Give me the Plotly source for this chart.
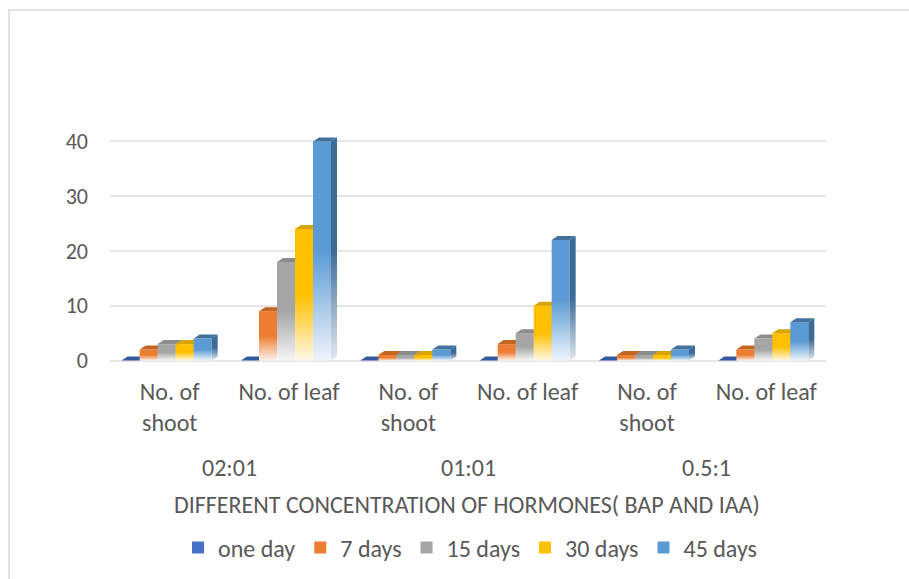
import plotly.graph_objects as go

# ---- data -------------------------------------------------------------
concentrations = ["02:01", "01:01", "0.5:1"]
measures = ["No. of<br>shoot", "No. of leaf"]
series_names = ["one day", "7 days", "15 days", "30 days", "45 days"]

one_day = [0, 0, 0, 0, 0, 0]
days_7 = [2, 9, 1, 3, 1, 2]
days_15 = [3, 18, 1, 5, 1, 4]
days_30 = [3, 24, 1, 10, 1, 5]
days_45 = [4, 40, 2, 22, 2, 7]
series_values = [one_day, days_7, days_15, days_30, days_45]

front_colors = ["#4472C4", "#ED7D31", "#A5A5A5", "#FFC000", "#5B9BD5"]
side_colors = ["#2F5597", "#B35A1F", "#7B7B7B", "#BF9000", "#3D6B97"]
top_colors = ["#34599E", "#C5651F", "#8C8C8C", "#D9A300", "#41719C"]

# ---- geometry of the pseudo-3D columns ---------------------------------
W, H = 909, 579
ML, MR, MT, MB = 110, 83, 136, 213
PW, PH = W - ML - MR, H - MT - MB
X_RANGE = [-0.5, 5.5]
Y_RANGE = [-1, 41]
px_x = PW / (X_RANGE[1] - X_RANGE[0])
px_y = PH / (Y_RANGE[1] - Y_RANGE[0])

BAR_W = 18 / px_x          # front face width
DX = 6 / px_x              # depth, horizontal
DY = 4 / px_y              # depth, vertical

categories = [f"{m}" for c in concentrations for m in measures]
n_cat = len(categories)
n_ser = len(series_names)


def mix(hex_color, t):
    """Blend a hex colour towards white by fraction t."""
    h = hex_color.lstrip("#")
    r, g, b = (int(h[i:i + 2], 16) for i in (0, 2, 4))
    r, g, b = (round(v + (255 - v) * t) for v in (r, g, b))
    return f"rgb({r},{g},{b})"


def fade(color, amount):
    return dict(type="vertical",
                colorscale=[[0, mix(color, amount)], [0.5, color], [1, color]])


fig = go.Figure()

for s in range(n_ser):
    name = series_names[s]
    top_x, top_y = [], []
    for c in range(n_cat):
        v = series_values[s][c]
        x0 = c - 2.5 * BAR_W - DX / 2 + s * BAR_W
        x1 = x0 + BAR_W
        if v > 0:
            # front face
            fig.add_trace(go.Scatter(
                x=[x0, x1, x1, x0, x0], y=[0, 0, v, v, 0],
                fill="toself", mode="none",
                fillgradient=fade(front_colors[s], 0.9),
                name=name, legendgroup=name, showlegend=False,
                hoverinfo="skip"))
            # side face
            fig.add_trace(go.Scatter(
                x=[x1, x1 + DX, x1 + DX, x1, x1], y=[0, DY, v + DY, v, 0],
                fill="toself", mode="none",
                fillgradient=fade(side_colors[s], 0.85),
                name=name, legendgroup=name, showlegend=False,
                hoverinfo="skip"))
        # top face
        top_x += [x0, x0 + DX, x1 + DX, x1, x0, None]
        top_y += [v, v + DY, v + DY, v, v, None]
    fig.add_trace(go.Scatter(
        x=top_x, y=top_y, fill="toself", mode="none",
        fillcolor=top_colors[s], name=name, legendgroup=name,
        showlegend=False, hoverinfo="skip"))
    # legend swatch
    fig.add_trace(go.Bar(
        x=[None], y=[None], marker=dict(color=front_colors[s], line_width=0),
        name=name, legendgroup=name, showlegend=True))

FONT = "Calibri, Carlito, Lato, sans-serif"
GREY = "#595959"


def px_to_paper_x(px):
    return (px - ML) / PW


def px_to_paper_y(py):
    return (H - MB - py) / PH


# group labels centred under each pair of categories
for g, label in enumerate(concentrations):
    fig.add_annotation(text=label, x=2 * g + 0.5, xref="x",
                       y=px_to_paper_y(467), yref="paper", showarrow=False,
                       xanchor="center", yanchor="middle",
                       font=dict(family=FONT, size=24, color=GREY))

fig.add_annotation(text="DIFFERENT CONCENTRATION OF HORMONES( BAP AND IAA)",
                   x=px_to_paper_x(467), y=px_to_paper_y(505),
                   xref="paper", yref="paper", showarrow=False,
                   xanchor="center", yanchor="middle",
                   font=dict(family=FONT, size=24, color=GREY))

# chart area border
fig.add_shape(type="rect", xref="paper", yref="paper",
              x0=px_to_paper_x(9), x1=px_to_paper_x(930),
              y0=px_to_paper_y(600), y1=px_to_paper_y(10),
              line=dict(color="#D9D9D9", width=1.5), layer="below")

fig.update_layout(
    width=W, height=H,
    margin=dict(l=ML, r=MR, t=MT, b=MB, autoexpand=False),
    paper_bgcolor="white", plot_bgcolor="white",
    font=dict(family=FONT, size=18, color=GREY),
    barmode="group",
    xaxis=dict(range=X_RANGE, tickmode="array",
               tickvals=list(range(n_cat)), ticktext=categories,
               showgrid=False, zeroline=False, showline=False,
               ticks="", ticklabelstandoff=9, automargin=False,
               tickfont=dict(family=FONT, size=24, color=GREY)),
    yaxis=dict(range=Y_RANGE, tickvals=[0, 10, 20, 30, 40],
               showgrid=True, gridcolor="#E6E6E6", gridwidth=2,
               zeroline=False, showline=False, ticks="",
               ticklabelstandoff=21, automargin=False,
               tickfont=dict(family=FONT, size=22, color=GREY)),
    legend=dict(orientation="h", x=px_to_paper_x(470), xanchor="center",
                y=px_to_paper_y(548), yanchor="middle",
                font=dict(family=FONT, size=24, color=GREY),
                itemwidth=30, tracegroupgap=0),
    showlegend=True,
)

fig.write_html("out.html")
